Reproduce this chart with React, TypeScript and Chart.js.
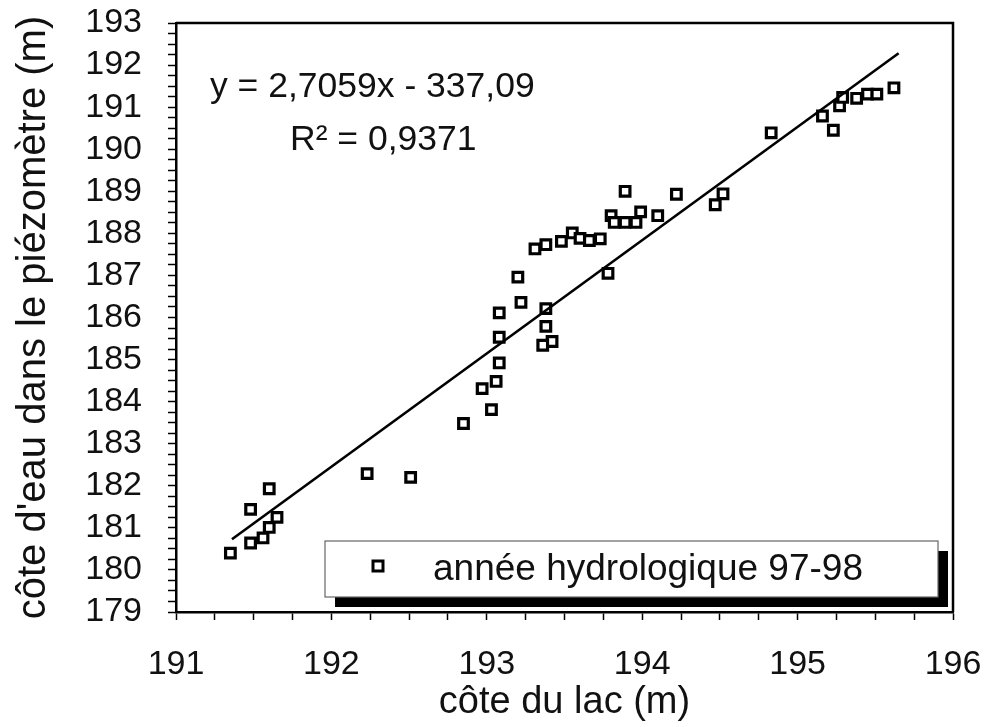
import React, { useEffect, useRef } from "react";
import { Chart, registerables } from "chart.js";

Chart.register(...registerables);

// ---- data ----
const lakeLevel: number[] = [
  191.35, 191.48, 191.56, 191.60, 191.65, 191.48, 191.60, 192.23, 192.51,
  192.85, 193.03, 192.97, 193.06, 193.08, 193.08, 193.08, 193.22, 193.20,
  193.38, 193.38, 193.42, 193.36, 193.31, 193.38, 193.48, 193.55, 193.60,
  193.66, 193.73, 193.78, 193.80, 193.82, 193.89, 193.96, 193.99, 193.89,
  194.10, 194.22, 194.47, 194.52, 194.83, 195.16, 195.23, 195.27, 195.29,
  195.38, 195.45, 195.51, 195.62,
];
const piezoLevel: number[] = [
  180.40, 180.64, 180.76, 181.01, 181.25, 181.44, 181.93, 182.29, 182.20,
  183.48, 183.81, 184.31, 184.48, 184.92, 185.53, 186.11, 186.36, 186.96,
  186.21, 185.79, 185.43, 185.34, 187.63, 187.73, 187.81, 188.01, 187.88,
  187.83, 187.87, 187.05, 188.42, 188.26, 188.26, 188.26, 188.51, 189.00,
  188.42, 188.93, 188.68, 188.94, 190.39, 190.79, 190.45, 191.03, 191.23,
  191.21, 191.31, 191.31, 191.46,
];
const trendX: number[] = [191.36, 195.65];
const trendY: number[] = [180.73, 192.28];

const seriesLabel = "année hydrologique 97-98";
const equationText = "y = 2,7059x - 337,09";
const r2Text = "R² = 0,9371";
const xTitle = "côte du lac (m)";
const yTitle = "côte d'eau dans le piézomètre (m)";

const xTickLabels: number[] = [191, 192, 193, 194, 195, 196];
const yTickLabels: number[] = [179, 180, 181, 182, 183, 184, 185, 186, 187, 188, 189, 190, 191, 192, 193];
const minorStep = 0.25;

const FONT = "'Liberation Sans', Arial, Helvetica, sans-serif";

function minorTicks(labels: number[]) {
  const min = labels[0];
  const max = labels[labels.length - 1];
  const out: { value: number }[] = [];
  const n = Math.round((max - min) / minorStep);
  for (let i = 0; i <= n; i++) out.push({ value: +(min + i * minorStep).toFixed(4) });
  return out;
}

function intLabel(v: number) {
  return Math.abs(v - Math.round(v)) < 1e-6 ? String(Math.round(v)) : "";
}

const framePlugin = {
  id: "frameAndLegend",
  afterDraw(chart: any) {
    const { ctx, chartArea: ca } = chart;
    ctx.save();
    // top & right frame
    ctx.strokeStyle = "#000";
    ctx.lineWidth = 2.5;
    ctx.beginPath();
    ctx.moveTo(ca.left, ca.top);
    ctx.lineTo(ca.right, ca.top);
    ctx.lineTo(ca.right, ca.bottom);
    ctx.stroke();

    // equation
    ctx.fillStyle = "#111";
    ctx.font = `35.5px ${FONT}`;
    ctx.textBaseline = "middle";
    ctx.textAlign = "left";
    ctx.fillText(equationText, ca.left + 34, ca.top + 64);
    ctx.fillText(r2Text, ca.left + 114, ca.top + 117);

    // legend box with shadow
    const bx = ca.left + 149;
    const by = ca.bottom - 71;
    const bw = ca.right - 15 - bx;
    const bh = 56;
    ctx.fillStyle = "#000";
    ctx.fillRect(bx + 10, by + 10, bw, bh);
    ctx.fillStyle = "#fff";
    ctx.fillRect(bx, by, bw, bh);
    ctx.strokeStyle = "#666";
    ctx.lineWidth = 1.2;
    ctx.strokeRect(bx, by, bw, bh);
    // marker
    ctx.strokeStyle = "#000";
    ctx.lineWidth = 3;
    ctx.fillStyle = "#fff";
    ctx.fillRect(bx + 48, by + 20, 10, 10);
    ctx.strokeRect(bx + 48, by + 20, 10, 10);
    // text
    ctx.fillStyle = "#111";
    ctx.font = `37px ${FONT}`;
    ctx.textBaseline = "middle";
    ctx.fillText(seriesLabel, bx + 108, by + 29);
    ctx.restore();
  },
};

export default function App() {
  const ref = useRef<HTMLCanvasElement | null>(null);

  useEffect(() => {
    if (!ref.current) return;
    const points = lakeLevel.map((x, i) => ({ x, y: piezoLevel[i] }));
    const trend = trendX.map((x, i) => ({ x, y: trendY[i] }));
    const chart = new Chart(ref.current, {
      type: "scatter",
      data: {
        datasets: [
          {
            label: seriesLabel,
            data: points,
            pointStyle: "rect",
            pointRadius: 6.8,
            pointHoverRadius: 6.8,
            pointBorderWidth: 3.2,
            borderColor: "#000",
            backgroundColor: "#fff",
            order: 2,
          },
          {
            label: "trend",
            data: trend,
            showLine: true,
            pointRadius: 0,
            borderColor: "#000",
            borderWidth: 2.6,
            order: 1,
          } as any,
        ],
      },
      options: {
        responsive: false,
        animation: false,
        devicePixelRatio: 1,
        layout: { padding: { top: 23, right: 35, left: 0, bottom: 0 } },
        plugins: {
          legend: { display: false },
          tooltip: { enabled: false },
        },
        scales: {
          x: {
            type: "linear",
            min: xTickLabels[0],
            max: xTickLabels[xTickLabels.length - 1],
            afterBuildTicks: (s: any) => {
              s.ticks = minorTicks(xTickLabels);
            },
            afterFit: (s: any) => {
              s.height = 115;
              s.paddingLeft = 0;
              s.paddingRight = 0;
            },
            ticks: {
              autoSkip: false,
              maxRotation: 0,
              padding: 24,
              color: "#111",
              font: { size: 34, family: FONT },
              callback: (v: any) => intLabel(Number(v)),
            },
            grid: {
              drawOnChartArea: false,
              drawTicks: true,
              tickLength: 8,
              tickColor: "#000",
              tickWidth: 1.5,
            },
            border: { display: true, color: "#000", width: 2.5 },
            title: {
              display: true,
              text: xTitle,
              color: "#111",
              font: { size: 38, family: FONT },
              padding: { top: 0, bottom: 2 },
            },
          },
          y: {
            type: "linear",
            min: yTickLabels[0],
            max: yTickLabels[yTickLabels.length - 1],
            afterBuildTicks: (s: any) => {
              s.ticks = minorTicks(yTickLabels);
            },
            afterFit: (s: any) => {
              s.width = 176;
              s.paddingTop = 0;
              s.paddingBottom = 0;
            },
            ticks: {
              autoSkip: false,
              padding: 26,
              color: "#111",
              font: { size: 34, family: FONT },
              callback: (v: any) => intLabel(Number(v)),
            },
            grid: {
              drawOnChartArea: false,
              drawTicks: true,
              tickLength: 8,
              tickColor: "#000",
              tickWidth: 1.5,
            },
            border: { display: true, color: "#000", width: 2.5 },
            title: {
              display: true,
              text: yTitle,
              color: "#111",
              font: { size: 40, family: FONT },
              padding: { top: 10, bottom: 0 },
            },
          },
        },
      },
      plugins: [framePlugin],
    });
    return () => chart.destroy();
  }, []);

  return (
    <div style={{ position: "fixed", left: 0, top: 0, width: 988, height: 727, background: "#fff" }}>
      <canvas ref={ref} width={988} height={727} style={{ display: "block" }} />
    </div>
  );
}
